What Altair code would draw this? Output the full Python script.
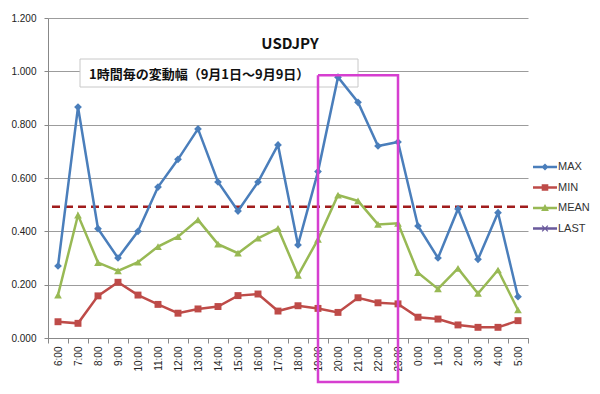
import altair as alt
import pandas as pd

hours = ["6:00", "7:00", "8:00", "9:00", "10:00", "11:00", "12:00", "13:00",
         "14:00", "15:00", "16:00", "17:00", "18:00", "19:00", "20:00", "21:00",
         "22:00", "23:00", "0:00", "1:00", "2:00", "3:00", "4:00", "5:00"]
max_v = [0.270, 0.866, 0.410, 0.300, 0.400, 0.566, 0.670, 0.784, 0.585, 0.476,
         0.585, 0.724, 0.349, 0.624, 0.978, 0.884, 0.720, 0.735, 0.420, 0.300,
         0.484, 0.295, 0.470, 0.155]
min_v = [0.061, 0.055, 0.158, 0.209, 0.161, 0.126, 0.093, 0.109, 0.118, 0.159,
         0.165, 0.101, 0.121, 0.111, 0.096, 0.151, 0.132, 0.128, 0.078, 0.071,
         0.049, 0.040, 0.040, 0.065]
mean_v = [0.161, 0.461, 0.283, 0.252, 0.284, 0.343, 0.380, 0.443, 0.352, 0.318,
          0.374, 0.411, 0.235, 0.370, 0.536, 0.514, 0.426, 0.430, 0.245, 0.184,
          0.261, 0.167, 0.255, 0.105]
series_names = ["MAX", "MIN", "MEAN", "LAST"]
series_colors = ["#4a7ebb", "#be4b48", "#98b954", "#6a5a9c"]
y_ticks = [0.0, 0.2, 0.4, 0.6, 0.8, 1.0, 1.2]
ref_level = 0.492
highlight_hours = ["19:00", "23:00", "23:00", "19:00", "19:00"]
highlight_vals = [0.985, 0.985, -0.165, -0.165, 0.985]
title_text = "USDJPY"
subtitle_text = "1時間毎の変動幅（9月1日～9月9日）"

rows = []
for name, vals in [("MAX", max_v), ("MIN", min_v), ("MEAN", mean_v)]:
    for h, v in zip(hours, vals):
        rows.append({"hour": h, "series": name, "value": v})
df = pd.DataFrame(rows)

df_box = pd.DataFrame({"hour": highlight_hours, "value": highlight_vals,
                       "order": list(range(len(highlight_hours)))})
df_ref = pd.DataFrame({"value": [ref_level]})
df_title = pd.DataFrame({"t": [title_text]})
df_sub = pd.DataFrame({"t": [subtitle_text]})

x_enc = alt.X("hour:N", sort=hours,
              scale=alt.Scale(domain=hours, paddingInner=0, paddingOuter=0),
              axis=alt.Axis(title=None, labelAngle=270, tickBand="extent",
                            tickSize=5, labelPadding=3, grid=False,
                            labelAlign="right", labelBaseline="middle"))
y_enc = alt.Y("value:Q",
              scale=alt.Scale(domain=[0, 1.2], nice=False),
              axis=alt.Axis(title=None, values=y_ticks, format=".3f",
                            tickSize=4, labelPadding=8, grid=True))
color_scale = alt.Scale(domain=series_names, range=series_colors)

legend_paths = [
    "M-2,-0.2H2V0.2H-2Z M0,-0.6L0.6,0L0,0.6L-0.6,0Z",
    "M-2,-0.2H2V0.2H-2Z M-0.55,-0.55H0.55V0.55H-0.55Z",
    "M-2,-0.2H2V0.2H-2Z M0,-0.65L0.65,0.5H-0.65Z",
    "M-2,-0.2H2V0.2H-2Z M-0.55,-0.4L-0.4,-0.55L0.55,0.4L0.4,0.55Z M0.4,-0.55L0.55,-0.4L-0.4,0.55L-0.55,0.4Z",
]

leg = alt.Legend(title=None, orient="none", legendX=491, legendY=143,
                 symbolSize=144, symbolStrokeWidth=0, symbolOpacity=1,
                 labelFontSize=11, labelFont="Liberation Sans", labelColor="#333",
                 labelOffset=7, rowPadding=9.5, padding=0)

subbox = alt.Chart(df_sub).mark_rect(fill="white", stroke="#c8c8c8", strokeWidth=1).encode(
    x=alt.value(32), x2=alt.value(310), y=alt.value(41), y2=alt.value(69))
subtext = alt.Chart(df_sub).mark_text(align="left", baseline="middle", fontSize=13,
                                      fontWeight="bold", font="Noto Sans CJK JP",
                                      color="#111").encode(
    x=alt.value(41), y=alt.value(57), text="t:N")
title = alt.Chart(df_title).mark_text(align="center", baseline="middle", fontSize=15,
                                      fontWeight="bold", font="Noto Sans CJK JP",
                                      color="#111").encode(
    x=alt.value(242), y=alt.value(26), text="t:N")

ref = alt.Chart(df_ref).mark_rule(color="#a01c1c", strokeWidth=2.5,
                                  strokeDash=[8, 5]).encode(y="value:Q")

lines = alt.Chart(df).mark_line(strokeWidth=2.5).encode(
    x=x_enc, y=y_enc,
    color=alt.Color("series:N", scale=color_scale))

point_layers = []
for name, shp, sz in [("MAX", "diamond", 60), ("MIN", "square", 48), ("MEAN", "triangle-up", 60)]:
    point_layers.append(
        alt.Chart(df).transform_filter(alt.datum.series == name)
        .mark_point(filled=True, opacity=1, shape=shp, size=sz)
        .encode(x=x_enc, y=y_enc,
                color=alt.Color("series:N", scale=color_scale)))

legend_layer = alt.Chart(df).transform_filter("false").mark_point(
    filled=True, opacity=1, size=144).encode(
    x=x_enc, y=y_enc,
    color=alt.Color("series:N", scale=color_scale, legend=leg),
    shape=alt.Shape("series:N", scale=alt.Scale(domain=series_names, range=legend_paths),
                    legend=leg))

box = alt.Chart(df_box).mark_line(color="#d63fd0", strokeWidth=2.5, clip=False).encode(
    x=x_enc, y=y_enc, order="order:Q")

chart = alt.layer(legend_layer, subbox, subtext, title, ref, lines, *point_layers, box).properties(
    width=480, height=320,
    padding={"left": 40, "top": 10, "right": 64, "bottom": 46},
    autosize=alt.AutoSizeParams(type="none"),
    background="white",
).configure_view(stroke=None).configure_axis(
    domainColor="#888", tickColor="#888", gridColor="#9c9c9c",
    labelFont="Liberation Sans", labelFontSize=10, labelColor="#222")

chart.save("out.html", embed_options={"renderer": "svg", "actions": False})
